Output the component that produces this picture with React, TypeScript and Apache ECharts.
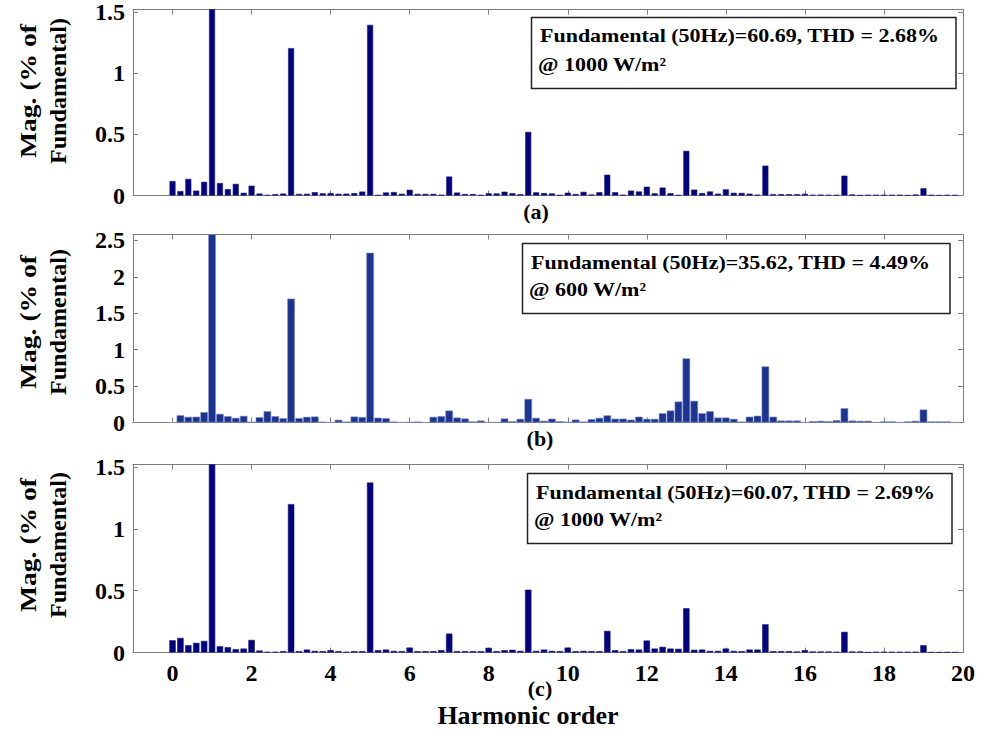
import React, { useEffect, useRef } from "react";
import * as echarts from "echarts";

// Harmonic order of every spectral bin (10 Hz resolution, 50 Hz fundamental)
const harmonicOrder = [
  0, 0.2, 0.4, 0.6, 0.8, 1, 1.2, 1.4, 1.6, 1.8,
  2, 2.2, 2.4, 2.6, 2.8, 3, 3.2, 3.4, 3.6, 3.8,
  4, 4.2, 4.4, 4.6, 4.8, 5, 5.2, 5.4, 5.6, 5.8,
  6, 6.2, 6.4, 6.6, 6.8, 7, 7.2, 7.4, 7.6, 7.8,
  8, 8.2, 8.4, 8.6, 8.8, 9, 9.2, 9.4, 9.6, 9.8,
  10, 10.2, 10.4, 10.6, 10.8, 11, 11.2, 11.4, 11.6, 11.8,
  12, 12.2, 12.4, 12.6, 12.8, 13, 13.2, 13.4, 13.6, 13.8,
  14, 14.2, 14.4, 14.6, 14.8, 15, 15.2, 15.4, 15.6, 15.8,
  16, 16.2, 16.4, 16.6, 16.8, 17, 17.2, 17.4, 17.6, 17.8,
  18, 18.2, 18.4, 18.6, 18.8, 19, 19.2, 19.4, 19.6, 19.8,
];

// (a) 1000 W/m2
const magA = [
  0.118, 0.036, 0.136, 0.040, 0.112, 100, 0.102, 0.052, 0.095, 0.022,
  0.080, 0.016, 0.004, 0.011, 0.016, 1.205, 0.013, 0.014, 0.027, 0.018,
  0.020, 0.014, 0.015, 0.019, 0.032, 1.395, 0.004, 0.025, 0.028, 0.014,
  0.047, 0.013, 0.013, 0.013, 0.006, 0.155, 0.024, 0.012, 0.012, 0.004,
  0.018, 0.017, 0.031, 0.019, 0.011, 0.52, 0.026, 0.020, 0.017, 0.004,
  0.023, 0.012, 0.030, 0.008, 0.027, 0.170, 0.027, 0.006, 0.040, 0.033,
  0.072, 0.018, 0.065, 0.019, 0.004, 0.365, 0.048, 0.020, 0.033, 0.015,
  0.050, 0.022, 0.021, 0.015, 0.006, 0.244, 0.011, 0.011, 0.011, 0.010,
  0.014, 0.005, 0.007, 0.005, 0.005, 0.162, 0.008, 0.002, 0.005, 0.005,
  0.005, 0.005, 0.006, 0.002, 0.008, 0.059, 0.005, 0.002, 0.005, 0.003,
];

// (b) 600 W/m2
const magB = [
  0, 0.100, 0.078, 0.080, 0.142, 100, 0.119, 0.087, 0.064, 0.091,
  0.010, 0.073, 0.155, 0.087, 0.059, 1.70, 0.061, 0.078, 0.082, 0.010,
  0.003, 0.037, 0.012, 0.082, 0.075, 2.33, 0.066, 0.060, 0.012, 0.002,
  0.008, 0.012, 0.002, 0.078, 0.087, 0.164, 0.068, 0.055, 0.014, 0.027,
  0.003, 0.005, 0.055, 0.018, 0.050, 0.324, 0.064, 0.023, 0.052, 0.018,
  0.010, 0.040, 0.012, 0.046, 0.064, 0.098, 0.052, 0.053, 0.039, 0.080,
  0.050, 0.050, 0.128, 0.164, 0.288, 0.88, 0.297, 0.128, 0.155, 0.068,
  0.068, 0.050, 0.012, 0.080, 0.093, 0.77, 0.080, 0.027, 0.027, 0.027,
  0.002, 0.018, 0.023, 0.018, 0.032, 0.196, 0.027, 0.023, 0.023, 0.002,
  0.014, 0.014, 0.002, 0.014, 0.023, 0.178, 0.014, 0.014, 0.014, 0.002,
];

// (c) 1000 W/m2
const magC = [
  0.099, 0.118, 0.059, 0.078, 0.094, 100, 0.051, 0.043, 0.027, 0.032,
  0.102, 0.016, 0.005, 0.005, 0.011, 1.20, 0.011, 0.024, 0.013, 0.011,
  0.019, 0.011, 0.005, 0.011, 0.011, 1.374, 0.019, 0.024, 0.013, 0.011,
  0.040, 0.011, 0.011, 0.011, 0.019, 0.153, 0.011, 0.011, 0.011, 0.011,
  0.038, 0.011, 0.019, 0.022, 0.013, 0.508, 0.013, 0.024, 0.013, 0.011,
  0.040, 0.011, 0.013, 0.011, 0.011, 0.175, 0.019, 0.011, 0.027, 0.024,
  0.097, 0.032, 0.046, 0.032, 0.030, 0.358, 0.022, 0.024, 0.013, 0.013,
  0.032, 0.013, 0.011, 0.024, 0.024, 0.228, 0.011, 0.011, 0.011, 0.008,
  0.019, 0.008, 0.008, 0.008, 0.005, 0.167, 0.008, 0.008, 0.002, 0.005,
  0.005, 0.005, 0.005, 0.005, 0.005, 0.059, 0.002, 0.002, 0.003, 0.002,
];

const xTickValues = [0, 2, 4, 6, 8, 10, 12, 14, 16, 18, 20];
const yTicksA = [0, 0.5, 1, 1.5];
const yTicksB = [0, 0.5, 1, 1.5, 2, 2.5];
const yTicksC = [0, 0.5, 1, 1.5];

const boxLine1 = [
  "Fundamental (50Hz)=60.69, THD = 2.68%",
  "Fundamental (50Hz)=35.62, THD = 4.49%",
  "Fundamental (50Hz)=60.07, THD = 2.69%",
];
const boxLine2 = ["@ 1000 W/m²", "@ 600 W/m²", "@ 1000 W/m²"];
const panelTags = ["(a)", "(b)", "(c)"];

const SERIF = "'Liberation Serif', 'Times New Roman', serif";
const AXIS_COLOR = "#7d7d7d";

export default function App() {
  const ref = useRef<HTMLDivElement>(null);

  useEffect(() => {
    if (!ref.current) return;
    const chart = echarts.init(ref.current, null, { renderer: "svg" });

    const grids = [
      { left: 133, right: 18, top: 9.5, height: 186 },
      { left: 133, right: 18, top: 234.5, height: 188 },
      { left: 133, right: 18, top: 464.5, height: 188 },
    ];
    const yMax = [1.52, 2.58, 1.52];
    const yTicks = [yTicksA, yTicksB, yTicksC];
    const mags = [magA, magB, magC];
    const barColors = ["#02027e", "#1b3491", "#02027e"];
    const barBorders = ["#1a1a80", "#8190c4", "#1a1a80"];
    const barWidths = [6, 7.6, 6.4];

    const xAxes: any[] = [];
    const yAxes: any[] = [];
    const series: any[] = [];

    for (let p = 0; p < 3; p++) {
      // bottom x axis
      xAxes.push({
        type: "value",
        gridIndex: p,
        position: "bottom",
        min: -1,
        max: 20,
        axisLine: { show: true, onZero: false, lineStyle: { color: AXIS_COLOR, width: 1 } },
        axisTick: {
          show: true,
          inside: true,
          length: 5,
          customValues: xTickValues,
          lineStyle: { color: AXIS_COLOR },
        },
        axisLabel: {
          show: p === 2,
          customValues: xTickValues,
          fontFamily: SERIF,
          fontWeight: "bold",
          fontSize: 24,
          color: "#000",
          margin: 8,
        },
        splitLine: { show: false },
      });
      // top x axis (box frame)
      xAxes.push({
        type: "value",
        gridIndex: p,
        position: "top",
        min: -1,
        max: 20,
        axisLine: { show: true, onZero: false, lineStyle: { color: AXIS_COLOR, width: 1 } },
        axisTick: {
          show: true,
          inside: true,
          length: 5,
          customValues: xTickValues,
          lineStyle: { color: AXIS_COLOR },
        },
        axisLabel: { show: false },
        splitLine: { show: false },
      });
      // left y axis
      yAxes.push({
        type: "value",
        gridIndex: p,
        position: "left",
        min: 0,
        max: yMax[p],
        axisLine: { show: true, onZero: false, lineStyle: { color: AXIS_COLOR, width: 1 } },
        axisTick: {
          show: true,
          inside: true,
          length: 5,
          customValues: yTicks[p],
          lineStyle: { color: AXIS_COLOR },
        },
        axisLabel: {
          show: true,
          customValues: yTicks[p],
          fontFamily: SERIF,
          fontWeight: "bold",
          fontSize: 24,
          color: "#000",
          margin: 8,
        },
        splitLine: { show: false },
      });
      // right y axis (box frame)
      yAxes.push({
        type: "value",
        gridIndex: p,
        position: "right",
        min: 0,
        max: yMax[p],
        axisLine: { show: true, onZero: false, lineStyle: { color: AXIS_COLOR, width: 1 } },
        axisTick: {
          show: true,
          inside: true,
          length: 5,
          customValues: yTicks[p],
          lineStyle: { color: AXIS_COLOR },
        },
        axisLabel: { show: false },
        splitLine: { show: false },
      });

      series.push({
        type: "bar",
        xAxisIndex: p * 2,
        yAxisIndex: p * 2,
        barWidth: barWidths[p],
        clip: true,
        itemStyle: {
          color: barColors[p],
          borderColor: barBorders[p],
          borderWidth: 0.6,
        },
        data: harmonicOrder.map((h, i) => [h, mags[p][i]]),
      });
    }

    const boxes = [
      { x: 531.5, y: 17.5, w: 424.5, h: 71, tx: 540, l1: 35.5, l2: 65 },
      { x: 522.5, y: 243.5, w: 427.5, h: 70, tx: 531, l1: 262.5, l2: 290 },
      { x: 527.5, y: 473.5, w: 424.5, h: 70, tx: 536, l1: 492.5, l2: 520 },
    ];

    const graphic: any[] = [];
    boxes.forEach((b, p) => {
      graphic.push({
        type: "rect",
        z: 10,
        shape: { x: b.x, y: b.y, width: b.w, height: b.h },
        style: { fill: "#fff", stroke: "#222", lineWidth: 1.5 },
      });
      graphic.push({
        type: "text",
        z: 11,
        x: b.tx,
        y: b.l1,
        scaleY: 0.86,
        style: {
          text: boxLine1[p],
          fontFamily: SERIF,
          fontWeight: "bold",
          fontSize: 22,
          fill: "#000",
          align: "left",
          verticalAlign: "middle",
        },
      });
      graphic.push({
        type: "text",
        z: 11,
        x: b.tx - 2,
        y: b.l2,
        scaleY: 0.86,
        style: {
          text: boxLine2[p],
          fontFamily: SERIF,
          fontWeight: "bold",
          fontSize: 22,
          fill: "#000",
          align: "left",
          verticalAlign: "middle",
        },
      });
    });

    const tagPos = [
      [536, 211],
      [540, 438],
      [540, 688],
    ];
    panelTags.forEach((t, p) => {
      graphic.push({
        type: "text",
        x: tagPos[p][0],
        y: tagPos[p][1],
        style: {
          text: t,
          fontFamily: SERIF,
          fontWeight: "bold",
          fontSize: 22,
          fill: "#000",
          align: "center",
          verticalAlign: "middle",
        },
      });
    });

    const yLabelCenters = [91, 322, 545];
    yLabelCenters.forEach((cy) => {
      graphic.push({
        type: "text",
        x: 28,
        y: cy,
        rotation: Math.PI / 2,
        scaleX: 1.2,
        style: {
          text: "Mag. (% of",
          fontFamily: SERIF,
          fontWeight: "bold",
          fontSize: 23,
          fill: "#000",
          align: "center",
          verticalAlign: "middle",
        },
      });
      graphic.push({
        type: "text",
        x: 58,
        y: cy,
        rotation: Math.PI / 2,
        scaleX: 1.05,
        style: {
          text: "Fundamental)",
          fontFamily: SERIF,
          fontWeight: "bold",
          fontSize: 23,
          fill: "#000",
          align: "center",
          verticalAlign: "middle",
        },
      });
    });

    graphic.push({
      type: "text",
      x: 528,
      y: 715,
      style: {
        text: "Harmonic order",
        fontFamily: SERIF,
        fontWeight: "bold",
        fontSize: 26,
        fill: "#000",
        align: "center",
        verticalAlign: "middle",
      },
    });

    chart.setOption({
      animation: false,
      backgroundColor: "#fff",
      grid: grids,
      xAxis: xAxes,
      yAxis: yAxes,
      series,
      graphic,
    });

    return () => chart.dispose();
  }, []);

  return (
    <div
      ref={ref}
      style={{ position: "fixed", left: 0, top: 0, width: 981, height: 735, background: "#fff" }}
    />
  );
}
